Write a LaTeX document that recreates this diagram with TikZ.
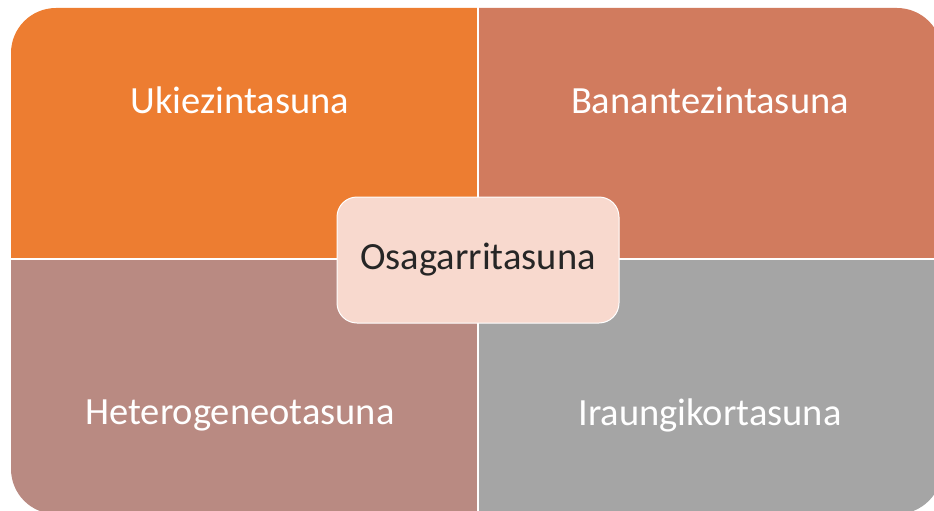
\documentclass[tikz,border=0pt]{standalone}
\usepackage{fontspec}
\setmainfont{Carlito}
\definecolor{qA}{HTML}{ED7D31}
\definecolor{qB}{HTML}{D17B5E}
\definecolor{qC}{HTML}{B98A82}
\definecolor{qD}{HTML}{A5A5A5}
\definecolor{cfill}{HTML}{F8D9CE}
\tikzset{
  qlabel/.style={text=white,font=\fontsize{38.5}{42}\selectfont,anchor=center},
  clabel/.style={draw=white,line width=1pt,fill=cfill,rounded corners=20pt,minimum width=282pt,minimum height=126pt,text=black!85,font=\fontsize{38.5}{42}\selectfont}
}
\begin{document}
\begin{tikzpicture}[x=1pt,y=-1pt]
\useasboundingbox (0,0) rectangle (934,511);
\begin{scope}
\clip[rounded corners=45pt] (11,8) rectangle (942,514);
\fill[qA] (0,0) rectangle (477,258);
\fill[qB] (479,0) rectangle (950,258);
\fill[qC] (0,260) rectangle (477,530);
\fill[qD] (479,260) rectangle (950,530);
\end{scope}
\node[qlabel] (ukie) at (240,100) {Ukiezintasuna};
\node[qlabel] (bana) at (710,100) {Banantezintasuna};
\node[qlabel] (hete) at (240,415) {Heterogeneotasuna};
\node[qlabel] (irau) at (710,415) {Iraungikortasuna};
\node[clabel] (osag) at (478,260) {Osagarritasuna};
\end{tikzpicture}
\end{document}
